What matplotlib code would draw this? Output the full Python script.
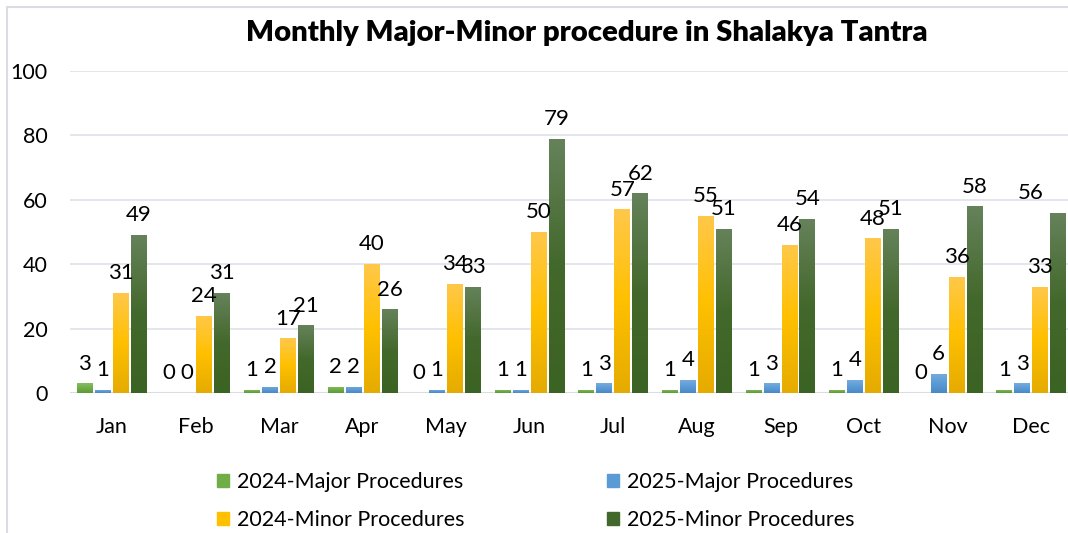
import matplotlib
matplotlib.use('Agg')
import matplotlib.pyplot as plt
import matplotlib.patches as patches
from matplotlib.colors import LinearSegmentedColormap
import numpy as np

months = ['Jan', 'Feb', 'Mar', 'Apr', 'May', 'Jun', 'Jul', 'Aug', 'Sep', 'Oct', 'Nov', 'Dec']
major_2024 = [3, 0, 1, 2, 0, 1, 1, 1, 1, 1, 0, 1]
major_2025 = [1, 0, 2, 2, 1, 1, 3, 4, 3, 4, 6, 3]
minor_2024 = [31, 24, 17, 40, 34, 50, 57, 55, 46, 48, 36, 33]
minor_2025 = [49, 31, 21, 26, 33, 79, 62, 51, 54, 51, 58, 56]

series = [
    ('2024-Major Procedures', major_2024, ['#5E9A38', '#70AD47', '#86BE63']),
    ('2025-Major Procedures', major_2025, ['#4A88C6', '#5B9BD5', '#75ACDF']),
    ('2024-Minor Procedures', minor_2024, ['#E5AB00', '#FFC000', '#FFC84A']),
    ('2025-Minor Procedures', minor_2025, ['#3B6323', '#43682B', '#65825A']),
]

plt.rcParams['font.family'] = ['Lato', 'DejaVu Sans']

fig = plt.figure(figsize=(10.68, 5.33), dpi=100)
W, H = 1068, 533

# chart border (Excel chart area)
fig.patches.append(patches.Rectangle((7 / W, -0.1), 1.2, (H - 7) / H + 0.1,
                                     transform=fig.transFigure, fill=False,
                                     edgecolor='#D9DDE2', lw=1.5))

ax = fig.add_axes([70 / W, 140 / H, (W - 70) / W, (393 - 71) / H])
x = np.arange(len(months))
pitch = 0.215
width = 0.19
offsets = (np.arange(4) - 1.5) * pitch

for i, (name, vals, cols) in enumerate(series):
    cmap = LinearSegmentedColormap.from_list(name, cols)
    bars = ax.bar(x + offsets[i], vals, width, color=cols[1], label=name, zorder=2)
    for b, v in zip(bars, vals):
        if v <= 0:
            continue
        grad = np.linspace(0, 1, 100).reshape(-1, 1)
        im = ax.imshow(grad, cmap=cmap, aspect='auto', origin='lower',
                       extent=[b.get_x(), b.get_x() + b.get_width(), 0, v], zorder=3)
        im.set_clip_path(b)
    for j, (xi, v) in enumerate(zip(x + offsets[i], vals)):
        dx = -20 if (i == 3 and j == len(vals) - 1) else 0  # last label pulled inside
        ax.annotate(str(v), (xi, v), xytext=(dx, 7), textcoords='offset points',
                    ha='center', va='bottom', fontsize=16, color='#000000', zorder=4)

ax.set_xlim(-0.5, 11.5 - 5 / 83.6)
ax.set_ylim(0, 100)
ax.set_yticks([0, 20, 40, 60, 80, 100])
ax.set_xticks(x)
ax.set_xticklabels(months)
ax.tick_params(axis='both', length=0, labelsize=15.5, colors='#000000')
ax.tick_params(axis='x', pad=17)
ax.tick_params(axis='y', pad=16)
ax.grid(axis='y', color='#E1E4E8', lw=1.3, zorder=0)
ax.set_axisbelow(True)
for s in ax.spines.values():
    s.set_visible(False)
ax.axhline(0, color='#D9DDE2', lw=1.5, zorder=1)
ax.set_facecolor('none')

fig.text(587 / W, 1 - 33 / H, 'Monthly Major-Minor procedure in Shalakya Tantra',
         ha='center', va='center', fontsize=21.1, fontweight='heavy')

handles, labels = ax.get_legend_handles_labels()
order = [0, 2, 1, 3]
leg = fig.legend([patches.Patch(color=series[k][2][1]) for k in order],
                 [labels[k] for k in order], ncol=2, loc='center',
                 bbox_to_anchor=(536 / W, 1 - 501 / H), frameon=False,
                 fontsize=15.5, handlelength=0.55, handleheight=0.55,
                 handletextpad=0.4, columnspacing=6.6, labelspacing=0.85)

fig.savefig('out.png', dpi=100)
